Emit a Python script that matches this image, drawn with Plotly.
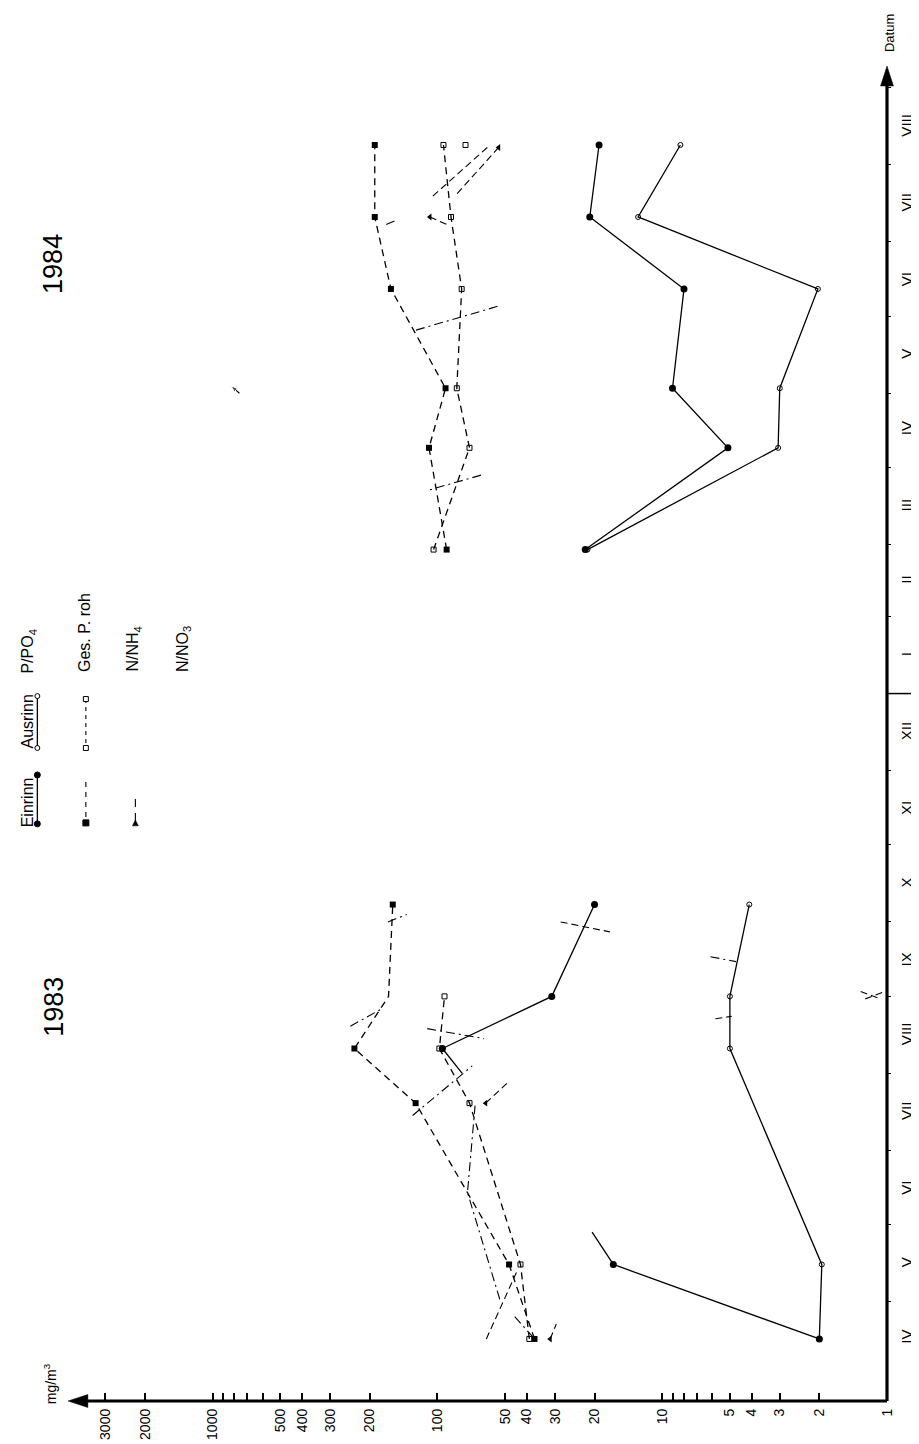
import math
import plotly.graph_objects as go

# ---------------- data ----------------
dates83 = ["1983-04-16", "1983-05-16", "1983-07-20", "1983-08-11", "1983-09-01", "1983-10-08"]
dates84 = ["1984-02-28", "1984-04-09", "1984-05-03", "1984-06-12", "1984-07-11", "1984-08-09"]

# P/PO4 (mg/m3)
p_ein_83 = [2.0, 16.5, None, 95, 31, 20]
p_aus_83 = [2.0, 1.95, None, 5.0, 5.0, 4.1]
p_ein_84 = [22, 5.1, 9.0, 8.0, 21, 19.1]
p_aus_84 = [21.5, 3.05, 3.0, 2.03, 12.8, 8.3]
# partial line pieces of Einrinn 1983
p_stub_dates = ["1983-05-16", "1983-05-29", None, "1983-08-11", "1983-08-01"]
p_stub_vals = [16.5, 20.5, None, 95, 77.6]

# Ges. P. roh
gesp_ein_83 = [37, 48, 125, 234, 165, 158]
gesp_ein_83_marked = [True, True, True, True, False, True]
gesp_aus_83 = [39, 42.7, 72, 98, 93, None]
gesp_ein_84 = [91, 109, 92, 161, 190, 190]
gesp_aus_84 = [104, 72, 82, 78, 87, 94]

# N/NH4 points (triangles) and visible line pieces
nh4_dates = ["1983-04-16", "1983-07-20", "1984-07-11", "1984-08-08"]
nh4_vals = [31.5, 61, 108, 53.4]
nh4_seg_dates = ["1983-04-16", "1983-04-22", None, "1983-07-20", "1983-07-28", None,
                 "1983-10-01", "1983-09-27", None, "1983-08-23", "1983-08-24", None,
                 "1983-09-03", "1983-08-31", None, "1983-08-31", "1983-09-03", None,
                 "1983-04-16", "1983-05-14", None, "1984-08-08", "1984-07-20", None,
                 "1984-08-08", "1984-07-19", None, "1984-07-11", "1984-07-08"]
nh4_seg_vals = [31.5, 29.6, None, 61, 49, None,
                28.3, 17.1, None, 5.8, 4.9, None,
                1.31, 1.07, None, 1.25, 1.02, None,
                60.6, 43.9, None, 53.4, 82.5, None,
                60, 106, None, 108, 91]

# N/NO3 visible line pieces
no3_seg_dates = ["1983-07-15", "1983-08-04", None, "1983-08-19", "1983-08-15", None,
                 "1983-08-20", "1983-08-27", None, "1983-10-01", "1983-10-04", None,
                 "1983-09-17", "1983-09-15", None, "1984-06-05", "1984-05-26", None,
                 "1984-03-29", "1984-03-23", None, "1984-07-08", "1984-07-10", None,
                 "1983-05-02", "1983-06-14", "1983-07-19", None, "1983-04-25", "1983-04-17"]
no3_seg_vals = [129, 70, None, 111, 62, None,
                244, 177, None, 166, 137, None,
                6.1, 4.7, None, 54, 129, None,
                64, 109, None, 169, 150, None,
                52.8, 73.5, 68, None, 45.3, 37.8]
no3_mark_dates = ["1984-08-09"]
no3_mark_vals = [75]
# off-scale arrow (tail -> tip)
no3_offscale_dates = ["1984-05-01", "1984-05-04"]
no3_offscale_vals = [760, 830]

# axis ticks
val_ticks = [1, 2, 3, 4, 5, 10, 20, 30, 40, 50, 100, 200, 300, 400, 500, 1000, 2000, 3000]
val_labels = ["1", "2", "3", "4", "5", "10", "20", "30", "40", "50", "100",
              "200", "300", "400", "500", "1000", "2000", "3000"]
val_minor = [6, 7, 8, 9, 600, 700, 800, 900]
month_mid = ["1983-04-16", "1983-05-16", "1983-06-15", "1983-07-16", "1983-08-16",
             "1983-09-15", "1983-10-16", "1983-11-15", "1983-12-16", "1984-01-16",
             "1984-02-15", "1984-03-16", "1984-04-16", "1984-05-16", "1984-06-15",
             "1984-07-16", "1984-08-16"]
month_labels = ["IV", "V", "VI", "VII", "VIII", "IX", "X", "XI", "XII", "I", "II", "III",
                "IV", "V", "VI", "VII", "VIII"]
month_starts = ["1983-05-01", "1983-06-01", "1983-07-01", "1983-08-01", "1983-09-01",
                "1983-10-01", "1983-11-01", "1983-12-01", "1984-02-01", "1984-03-01",
                "1984-04-01", "1984-05-01", "1984-06-01", "1984-07-01", "1984-08-01",
                "1984-09-01"]
year_start = "1984-01-01"

# ---------------- layout geometry ----------------
W_FIG, H_FIG = 919, 1444
L, R, T, B = 65, 887, 65, 1395
PW, PH = R - L, B - T
FONT = "Liberation Sans, Arial, Helvetica, sans-serif"
FONT_N = "Liberation Sans Narrow, Liberation Sans, Arial, sans-serif"


def px(x):
    return (x - L) / PW


def py(y):
    return (B - y) / PH


fig = go.Figure()

line_w = 1.3
dash_ges = "7px,5px"
dash_no3 = "9px,4px,2px,4px"

# P/PO4 Einrinn
for d, v in [(dates83, p_ein_83), (dates84, p_ein_84)]:
    fig.add_trace(go.Scatter(x=v, y=d, mode="lines+markers", connectgaps=False,
                             line=dict(color="black", width=line_w),
                             marker=dict(symbol="circle", size=7, color="black")))
fig.add_trace(go.Scatter(x=p_stub_vals, y=p_stub_dates, mode="lines",
                         line=dict(color="black", width=line_w)))
# P/PO4 Ausrinn
for d, v in [(dates83, p_aus_83), (dates84, p_aus_84)]:
    fig.add_trace(go.Scatter(x=v, y=d, mode="lines+markers", connectgaps=True,
                             line=dict(color="black", width=line_w),
                             marker=dict(symbol="circle-open", size=5, color="black",
                                         line=dict(width=1))))
# Ges. P. roh Einrinn
fig.add_trace(go.Scatter(x=gesp_ein_83, y=dates83, mode="lines",
                         line=dict(color="black", width=line_w, dash=dash_ges)))
fig.add_trace(go.Scatter(x=[v for v, m in zip(gesp_ein_83, gesp_ein_83_marked) if m],
                         y=[d for d, m in zip(dates83, gesp_ein_83_marked) if m],
                         mode="markers",
                         marker=dict(symbol="square", color="black", size=6)))
fig.add_trace(go.Scatter(x=gesp_ein_84, y=dates84, mode="lines+markers",
                         line=dict(color="black", width=line_w, dash=dash_ges),
                         marker=dict(symbol="square", color="black", size=6)))
# Ges. P. roh Ausrinn
for d, v in [(dates83, gesp_aus_83), (dates84, gesp_aus_84)]:
    fig.add_trace(go.Scatter(x=v, y=d, mode="lines+markers",
                             line=dict(color="black", width=line_w, dash=dash_ges),
                             marker=dict(symbol="square-open", size=5, color="black",
                                         line=dict(width=1))))
# N lines
fig.add_trace(go.Scatter(x=nh4_seg_vals, y=nh4_seg_dates, mode="lines", connectgaps=False,
                         line=dict(color="black", width=1.1, dash="7px,4px")))
fig.add_trace(go.Scatter(x=no3_seg_vals, y=no3_seg_dates, mode="lines", connectgaps=False,
                         line=dict(color="black", width=1.1, dash=dash_no3)))
fig.add_trace(go.Scatter(x=nh4_vals, y=nh4_dates, mode="markers",
                         marker=dict(symbol="triangle-left", size=6, color="black")))
fig.add_trace(go.Scatter(x=no3_mark_vals, y=no3_mark_dates, mode="markers",
                         marker=dict(symbol="square-open", size=5, color="black",
                                     line=dict(width=1))))
fig.add_trace(go.Scatter(x=no3_offscale_vals, y=no3_offscale_dates, mode="lines+markers",
                         line=dict(color="black", width=1.1),
                         marker=dict(symbol=["circle", "arrow"], size=[0, 7],
                                     angleref="previous", color="black")))

# sampling-date markers on the time axis
samp = dates83 + dates84
fig.add_trace(go.Scatter(x=[10 ** -0.026] * len(samp), y=samp, mode="markers",
                         cliponaxis=False,
                         marker=dict(symbol="triangle-left", size=7, color="black")))

annotations = []
shapes = []


def rot_text(x, y, t, size, family=FONT):
    annotations.append(dict(xref="paper", yref="paper", x=px(x), y=py(y), text=t,
                            textangle=-90, showarrow=False, xanchor="center",
                            yanchor="middle",
                            font=dict(size=size, family=family, color="black")))


def path_shape(pts, fill=True):
    d = "M " + " L ".join("{:.5f} {:.5f}".format(px(a), py(b)) for a, b in pts) + " Z"
    shapes.append(dict(type="path", xref="paper", yref="paper", path=d,
                       fillcolor="black" if fill else "white",
                       line=dict(color="black", width=0.5)))


def seg(x0, y0, x1, y1, width=1.3, dash=None):
    ln = dict(color="black", width=width)
    if dash:
        ln["dash"] = dash
    shapes.append(dict(type="line", xref="paper", yref="paper", x0=px(x0), x1=px(x1),
                       y0=py(y0), y1=py(y1), line=ln))


# axis lines with arrow heads
seg(R, B, 78, B, width=3.2)
path_shape([(60, B), (80, B - 6.5), (80, B + 6.5)])
seg(R, B, R, 76, width=3.2)
path_shape([(R, 58), (R - 6.5, 78), (R + 6.5, 78)])

# axis titles
rot_text(42, 1378, "mg/m<sup>3</sup>", 14)
rot_text(889, 25, "Datum", 13)
# year labels
rot_text(45, 256, "1984", 27)
rot_text(45, 1000, "1983", 27)

# year boundary long tick
shapes.append(dict(type="line", xref="paper", yref="y", x0=px(R), x1=px(912),
                   y0=year_start, y1=year_start, line=dict(color="black", width=1.5)))

# ---------------- legend (rotated) ----------------


def dot(x, y, r, filled=True):
    shapes.append(dict(type="circle", xref="paper", yref="paper",
                       x0=px(x - r), x1=px(x + r), y0=py(y + r), y1=py(y - r),
                       fillcolor="black" if filled else "white",
                       line=dict(color="black", width=1)))


def sq(x, y, r, filled=True):
    shapes.append(dict(type="rect", xref="paper", yref="paper",
                       x0=px(x - r), x1=px(x + r), y0=py(y + r), y1=py(y - r),
                       fillcolor="black" if filled else "white",
                       line=dict(color="black", width=1)))


LS = 16
rot_text(19, 795, "Einrinn", LS, FONT_N)
seg(29, 768, 29, 817)
dot(29, 768, 3)
dot(29, 817, 3)
rot_text(19, 714, "Ausrinn", LS, FONT_N)
seg(29, 689, 29, 741)
dot(29, 689, 2.5, False)
dot(29, 741, 2.5, False)
rot_text(20, 644, "P/PO<sub>4</sub>", LS, FONT_N)

rot_text(76, 625, "Ges. P. roh", LS)
seg(78, 692, 78, 741, width=1.1, dash="4px,4px")
sq(78, 692, 2.5, False)
sq(78, 741, 2.5, False)
seg(78, 775, 78, 816, width=1.1, dash="5px,5px")
sq(78, 816, 3, True)

rot_text(126, 642, "N/NH<sub>4</sub>", LS, FONT_N)
seg(128, 792, 128, 815, width=1.1, dash="8px,6px")
path_shape([(128, 813), (125, 819), (131, 819)])

rot_text(176, 642, "N/NO<sub>3</sub>", LS, FONT_N)

fig.update_layout(
    width=W_FIG, height=H_FIG,
    margin=dict(l=L, r=W_FIG - R, t=T, b=H_FIG - B),
    paper_bgcolor="white", plot_bgcolor="white",
    showlegend=False,
    font=dict(family=FONT, color="black"),
    annotations=annotations, shapes=shapes,
    xaxis=dict(type="log", range=[(R - L) / 227.0, 0],
               tickmode="array", tickvals=val_ticks, ticktext=val_labels,
               tickangle=-90, ticks="inside", ticklen=8, tickwidth=1.5, tickcolor="black",
               showgrid=False, zeroline=False, showline=False,
               tickfont=dict(size=14, family=FONT), ticklabelstandoff=4,
               minor=dict(tickmode="array", tickvals=val_minor, ticks="inside",
                          ticklen=8, tickwidth=1.5, tickcolor="black", showgrid=False)),
    yaxis=dict(type="date", range=["1983-03-22", "1984-09-07"], side="right",
               tickmode="array", tickvals=month_mid, ticktext=month_labels,
               tickangle=-90, ticks="", showgrid=False, zeroline=False, showline=False,
               tickfont=dict(size=15, family=FONT), ticklabelstandoff=9,
               minor=dict(tickmode="array", tickvals=month_starts, ticks="outside",
                          ticklen=3, tickwidth=1, tickcolor="black", showgrid=False)),
)

fig.write_html("out.html")
